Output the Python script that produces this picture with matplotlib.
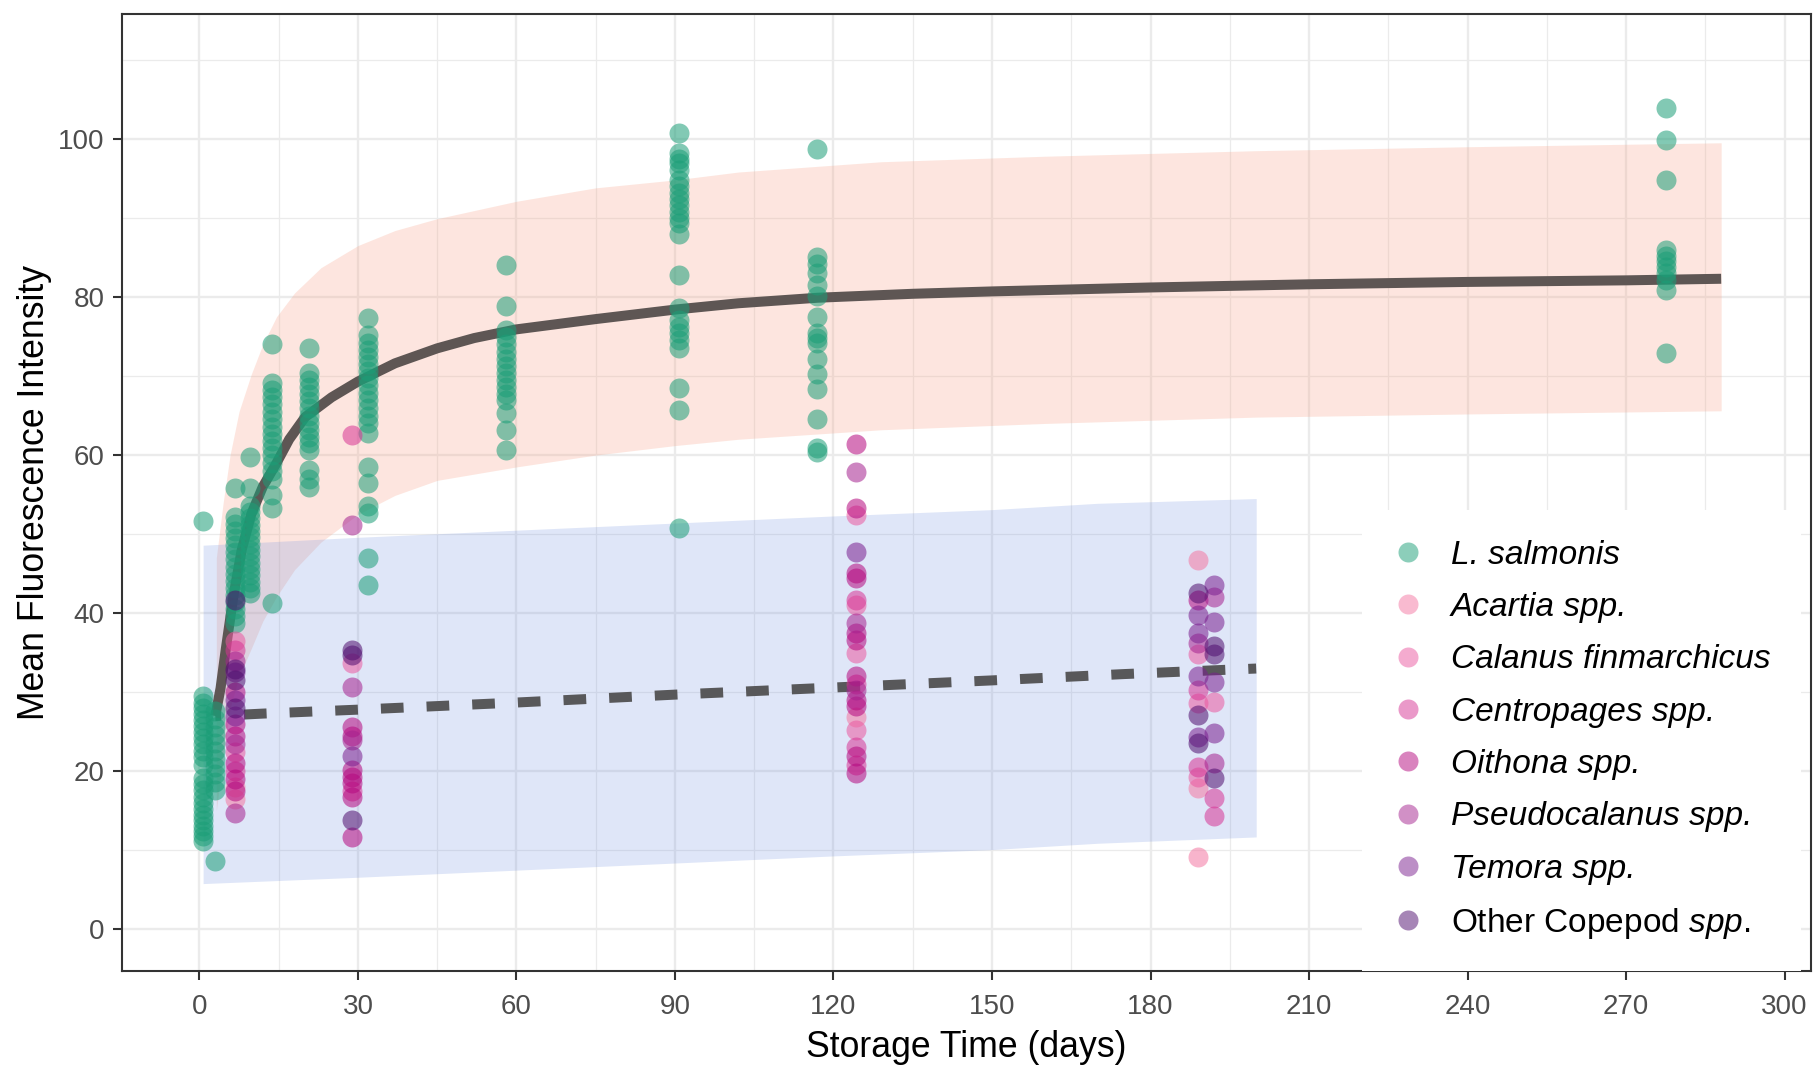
import matplotlib
matplotlib.use("Agg")
import matplotlib.pyplot as plt
import numpy as np
from matplotlib.lines import Line2D
from matplotlib.ticker import MultipleLocator

plt.rcParams["font.family"] = ["Liberation Sans", "DejaVu Sans"]
plt.rcParams["mathtext.fontset"] = "custom"
plt.rcParams["mathtext.rm"] = "Liberation Sans"
plt.rcParams["mathtext.it"] = "Liberation Sans:italic"

# --- L. salmonis observations, grouped by sampling day ---
lsal_days = [0.7, 3, 6.8, 9.6, 13.7, 20.8, 32, 58, 90.8, 116.8, 277.5]
lsal_vals = [
    [51.7, 29.5, 28.7, 28.0, 27.2, 26.5, 25.7, 25.0, 24.2, 23.4, 22.6, 21.8, 20.8,
     19.2, 18.4, 17.6, 16.8, 16.0, 15.2, 14.5, 13.8, 13.1, 12.4, 11.8, 11.2],
    [27.6, 26.6, 25.6, 24.6, 23.6, 22.6, 21.6, 20.6, 19.6, 18.6, 17.6, 8.7],
    [55.8, 52.2, 51.3, 50.4, 49.5, 48.6, 47.7, 46.8, 45.9, 45.0, 44.1, 43.2, 42.3,
     41.4, 40.5, 39.6, 38.7],
    [59.8, 55.8, 53.5, 52.8, 52.0, 51.2, 50.4, 49.6, 48.8, 48.0, 47.2, 46.4, 45.6,
     44.8, 44.0, 43.2, 42.5],
    [74.0, 69.1, 68.2, 67.3, 66.4, 65.5, 64.5, 63.6, 62.7, 61.8, 60.9, 60.0, 59.0,
     58.0, 57.0, 55.0, 53.3, 41.3],
    [73.5, 70.4, 69.5, 68.6, 67.7, 66.8, 65.9, 65.0, 64.1, 63.2, 62.3, 61.5, 60.7,
     58.1, 57.0, 56.0],
    [77.3, 75.2, 74.2, 73.3, 72.4, 71.5, 70.6, 69.7, 68.8, 67.9, 67.0, 66.0, 65.0,
     64.1, 62.8, 58.5, 56.5, 53.5, 52.7, 47.0, 43.6],
    [84.1, 78.8, 75.8, 74.9, 74.0, 73.1, 72.2, 71.3, 70.4, 69.5, 68.6, 67.7, 67.0,
     65.3, 63.2, 60.7],
    [100.7, 98.2, 97.5, 96.9, 96.1, 94.8, 94.0, 93.2, 92.4, 91.6, 90.8, 90.0, 89.3,
     87.9, 82.8, 78.6, 77.1, 76.2, 75.4, 74.6, 73.5, 68.5, 65.7, 50.8],
    [98.7, 85.1, 84.2, 83.0, 81.5, 80.1, 77.5, 75.4, 74.8, 74.2, 72.1, 70.2, 68.3,
     64.5, 60.9, 60.4],
    [103.9, 99.9, 94.8, 86.0, 85.2, 84.5, 83.8, 83.0, 82.2, 80.9, 72.9],
]

# --- copepod observations ---
acartia_day = [6.8, 6.8, 124.3, 189, 189, 189]
acartia_val = [16.5, 18.0, 26.9, 46.7, 17.9, 9.2]

calanus_day = [6.8, 6.8, 28.8, 124.3, 124.3, 124.3, 124.3, 189, 189, 189, 192]
calanus_val = [36.5, 22.5, 33.7, 52.4, 41.0, 35.0, 25.2, 34.9, 28.6, 19.3, 28.8]

centro_day = [6.8, 6.8, 28.8, 28.8, 124.3, 124.3, 124.3, 124.3, 189, 189, 192, 192]
centro_val = [35.3, 20.0, 62.5, 17.5, 41.7, 31.0, 23.1, 20.8, 30.3, 20.6, 16.6, 14.3]

oithona_day = [6.8, 6.8, 6.8, 6.8, 6.8, 6.8, 28.8, 28.8, 28.8, 28.8, 28.8, 28.8,
               28.8, 124.3, 124.3, 124.3, 124.3, 124.3, 124.3, 124.3, 124.3,
               124.3, 124.3, 124.3, 189]
oithona_val = [30.0, 26.0, 24.5, 21.0, 19.0, 17.5, 25.6, 24.5, 20.2, 19.3, 18.5,
               16.8, 11.7, 61.4, 53.3, 45.1, 44.5, 37.5, 36.6, 32.0, 29.0, 28.2,
               21.9, 19.8, 41.7]

pseudo_day = [6.8, 6.8, 6.8, 28.8, 28.8, 28.8, 124.3, 124.3, 124.3, 189, 192, 192]
pseudo_val = [34.0, 23.5, 14.7, 51.2, 30.7, 24.0, 57.9, 38.7, 30.3, 36.2, 42.1, 21.0]

temora_day = [6.8, 6.8, 6.8, 28.8, 124.3, 189, 189, 189, 189, 192, 192, 192, 192]
temora_val = [32.5, 29.0, 27.0, 21.9, 47.8, 39.8, 37.5, 32.0, 24.4, 43.6, 38.9,
              31.3, 24.8]

other_day = [6.8, 6.8, 6.8, 6.8, 28.8, 28.8, 28.8, 189, 189, 189, 192, 192, 192]
other_val = [41.7, 33.0, 31.5, 28.0, 35.3, 34.7, 13.8, 42.5, 27.1, 23.6, 35.8,
             34.9, 19.1]

# --- model fits ---
lsal_fit_day = [3, 4, 5, 6.4, 8, 9.8, 12, 14.6, 17, 20, 25, 30, 37, 45, 52, 60,
                75, 90, 102, 117, 135, 150, 180, 210, 240, 270, 288]
lsal_fit = [27, 30.5, 35.5, 42, 48, 52.5, 56, 59, 62, 64.8, 67.3, 69.3, 71.6,
            73.5, 74.8, 75.9, 77.2, 78.4, 79.2, 79.9, 80.4, 80.7, 81.2, 81.6,
            81.9, 82.1, 82.3]
lsal_band_day = [3.2, 4.5, 5.8, 7.5, 9.8, 12, 14.6, 18, 23, 30, 37, 45, 60, 75,
                 90, 102, 129, 160, 200, 240, 288]
lsal_upper = [47, 54, 60, 65.5, 70.2, 74, 77.5, 80.5, 83.7, 86.5, 88.4, 89.9,
              92.1, 93.8, 94.8, 95.8, 97.1, 97.8, 98.5, 99, 99.5]
lsal_lower = [15, 22, 28, 32, 35.5, 39, 42.1, 45.5, 49, 52.5, 54.9, 56.8, 58.5,
              60, 61.2, 62.0, 63.2, 64, 64.8, 65.2, 65.6]

cope_fit_day = [3, 12, 30, 60, 90, 120, 150, 175, 200]
cope_fit = [27.0, 27.3, 27.8, 28.7, 29.7, 30.6, 31.5, 32.3, 33.0]
cope_band_day = [0.7, 30, 60, 90, 120, 150, 170, 200]
cope_upper = [48.6, 49.6, 50.5, 51.4, 52.3, 53.1, 53.9, 54.5]
cope_lower = [5.8, 6.6, 7.5, 8.4, 9.3, 10.1, 10.9, 11.7]

species = ["L. salmonis", "Acartia spp.", "Calanus finmarchicus", "Centropages spp.",
           "Oithona spp.", "Pseudocalanus spp.", "Temora spp.", "Other Copepod spp."]
colors = ["#1b9e77", "#f477a2", "#eb58a0", "#d73494", "#b5087f", "#a5228f",
          "#7a1f8f", "#4f0d6e"]

fig = plt.figure(figsize=(18.17, 10.70), dpi=100)
ax = fig.add_axes([0.067, 0.0925, 0.9297, 0.8945])

ax.fill_between(lsal_band_day, lsal_lower, lsal_upper, color="#f8a58c", alpha=0.28,
                lw=0, zorder=1)
ax.fill_between(cope_band_day, cope_lower, cope_upper, color="#6f8fe0", alpha=0.22,
                lw=0, zorder=1)
ax.plot(lsal_fit_day, lsal_fit, color="#5e5654", lw=7.2, solid_capstyle="butt",
        solid_joinstyle="round", zorder=2)
ax.plot(cope_fit_day, cope_fit, color="#58585a", lw=7.2,
        linestyle=(1.7, (2.27, 2.3)), dash_capstyle="butt", zorder=2)

lsal_x = np.concatenate([[d] * len(v) for d, v in zip(lsal_days, lsal_vals)])
lsal_y = np.concatenate(lsal_vals)
groups = [(lsal_x, lsal_y), (acartia_day, acartia_val), (calanus_day, calanus_val),
          (centro_day, centro_val), (oithona_day, oithona_val),
          (pseudo_day, pseudo_val), (temora_day, temora_val),
          (other_day, other_val)]
for (gx, gy), col in zip(groups, colors):
    ax.scatter(gx, gy, s=207, color=col, alpha=0.55, linewidths=0, zorder=3)

ax.set_xlim(-14.7, 305)
ax.set_ylim(-5.26, 115.8)
ax.xaxis.set_major_locator(MultipleLocator(30))
ax.xaxis.set_minor_locator(MultipleLocator(15))
ax.yaxis.set_major_locator(MultipleLocator(20))
ax.yaxis.set_minor_locator(MultipleLocator(10))
ax.set_axisbelow(True)
ax.grid(which="major", color="#ebebeb", lw=1.7)
ax.grid(which="minor", color="#ebebeb", lw=0.9)
ax.tick_params(which="major", length=6.5, width=1.5, color="#333333",
               labelsize=20, labelcolor="#4d4d4d", pad=6)
ax.tick_params(axis="x", which="major", pad=10)
ax.tick_params(which="minor", length=0)
for sp in ax.spines.values():
    sp.set_color("#333333")
    sp.set_linewidth(1.5)

ax.set_xlabel("Storage Time (days)", fontsize=25.7, labelpad=7)
ax.set_ylabel("Mean Fluorescence Intensity", fontsize=25.7, labelpad=4)

handles = [Line2D([], [], marker="o", linestyle="", markersize=14.4,
                  markerfacecolor=c, markeredgewidth=0, alpha=0.5) for c in colors]
labels = species[:-1] + ["Other Copepod $\\mathit{spp.}$"]
leg = ax.legend(handles, labels, loc="lower left", bbox_to_anchor=(0.734, 0.0),
                bbox_transform=ax.transAxes, borderaxespad=0, fontsize=24,
                frameon=True, facecolor="white", edgecolor="none", framealpha=1,
                fancybox=False, handlelength=1.0, handletextpad=0.78,
                labelspacing=0.64, borderpad=0.9)
for t in leg.get_texts()[:-1]:
    t.set_fontstyle("italic")

fig.savefig("out.png", dpi=100)
